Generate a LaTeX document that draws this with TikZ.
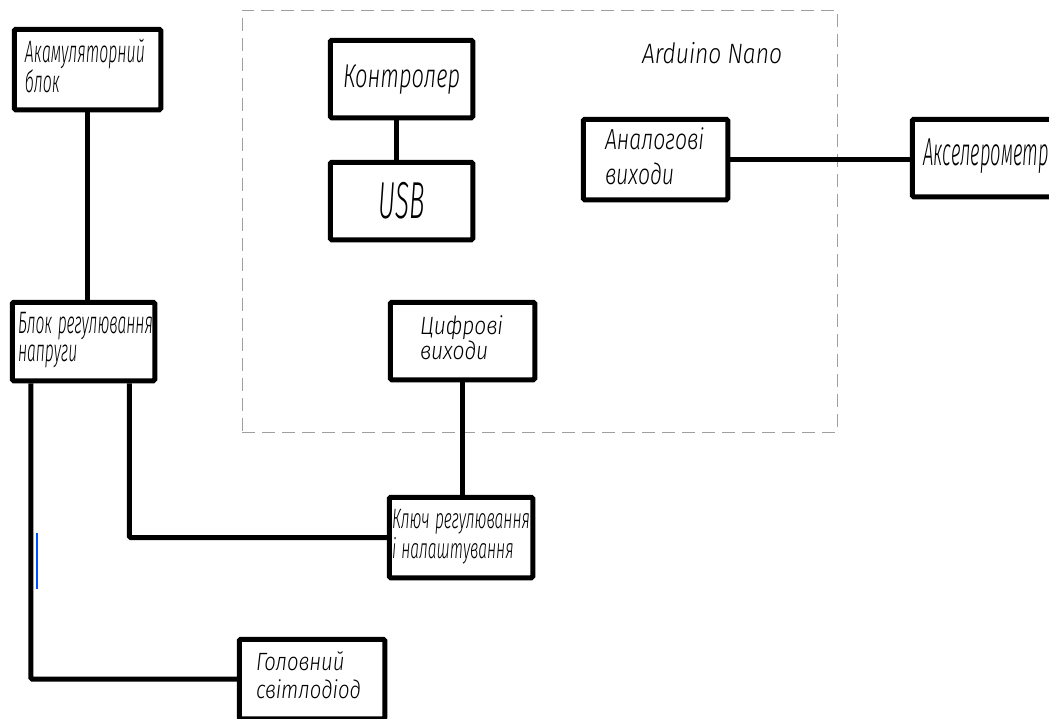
\documentclass[tikz,border=0pt]{standalone}
\usepackage{fontspec}
\usepackage{graphicx}
\usetikzlibrary{positioning}
\newfontfamily\gostfam{Fira Sans}[UprightFont={* Light}, ItalicFont={* Light Italic}]
\newcommand{\gost}{\gostfam\itshape}
% text of a block, squeezed to the given width
\newcommand{\gtxt}[2]{\resizebox{#1}{\height}{\begin{tabular}{@{}l@{}}#2\end{tabular}}}

\begin{document}
\begin{tikzpicture}[
    x=1pt, y=-1pt,
    blok/.style={draw, line width=5pt, rounded corners=1.5pt, inner ysep=0pt, align=left},
    zvyazok/.style={line width=5pt, rounded corners=1.5pt},
    ramka/.style={draw=gray!75, line width=1pt, dash pattern=on 13pt off 7pt, inner sep=0pt}
]
    \useasboundingbox (0,0) rectangle (1049,718);
    \fill[white] (0,0) rectangle (1049,718);

    % Arduino Nano
    \node[ramka, minimum width=595pt, minimum height=422pt] (nano) at (539.5, 221) {};
    \node[font=\fontsize{28}{28}\gost] (nanoname) at (712, 53) {\resizebox{140pt}{\height}{Arduino Nano}};
    \node[blok, minimum width=142.5pt, minimum height=77.5pt, font=\fontsize{33}{33}\gost] (kontroler) at (401.5, 79) {\resizebox{117pt}{\height}{Контролер}};
    \node[blok, minimum width=142.5pt, minimum height=77.5pt, font=\fontsize{52}{52}\gost] (usb) at (401.5, 201) {\resizebox{46pt}{\height}{USB}};
    \node[blok, text width=101pt, inner xsep=21.75pt, minimum height=80.5pt, font=\fontsize{29}{35}\gost] (analog) at (655.5, 159.5) {\gtxt{99pt}{Аналогові\\виходи}};
    \node[blok, text width=85pt, inner xsep=29.75pt, minimum height=77.5pt, font=\fontsize{25}{21}\gost] (tsyfr) at (462.5, 341) {\gtxt{83pt}{Цифрові\\виходи}};

    % Sensor
    \node[blok, text width=124pt, inner xsep=10.75pt, minimum height=77.5pt, font=\fontsize{39}{39}\gost] (aksel) at (985, 158) {\gtxt{126pt}{Акселерометр}};

    % Power
    \node[blok, text width=125pt, inner xsep=10.75pt, minimum height=80.5pt, font=\fontsize{31}{25}\gost] (akb) at (87.5, 69.5) {\gtxt{120pt}{Акамуляторний\\блок}};
    \node[blok, text width=131pt, inner xsep=5.75pt, minimum height=78.5pt, font=\fontsize{31}{28}\gost] (br) at (83.5, 341.5) {\gtxt{135pt}{Блок регулювання\\напруги}};

    % Key and LED
    \node[blok, text width=138pt, inner xsep=2.75pt, minimum height=80.5pt, font=\fontsize{28}{29}\gost] (klyuch) at (461, 537.5) {\gtxt{138pt}{Ключ регулювання\\і налаштування}};
    \node[blok, text width=112pt, inner xsep=16.75pt, minimum height=79.5pt, font=\fontsize{25}{28}\gost] (golov) at (312, 679) {\gtxt{105pt}{Головний\\світлодіод}};

    % Connections
    \draw[zvyazok] (akb.south) -- (akb.south |- br.north);
    \draw[zvyazok] ([xshift=21pt]br.south west) |- (golov.west);
    \draw[zvyazok] ([xshift=-28pt]br.south east) |- (klyuch.west);
    \draw[zvyazok] (tsyfr.south) -- (tsyfr.south |- klyuch.north);
    \draw[zvyazok] ([xshift=-5pt]kontroler.south) -- ([xshift=-5pt]usb.north);
    \draw[zvyazok] (analog.east) -- (analog.east -| aksel.west);

    % blue mark on the LED line
    \draw[blue!70!cyan, line width=2pt] (37, 533) -- (37, 589);
\end{tikzpicture}
\end{document}
